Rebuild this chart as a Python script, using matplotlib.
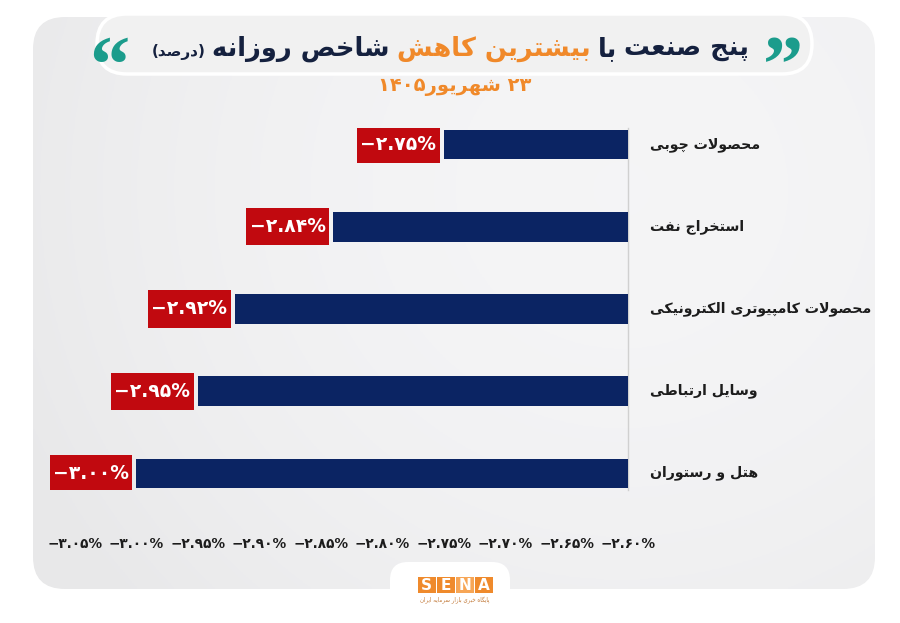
import matplotlib
matplotlib.use('Agg')
import matplotlib.pyplot as plt
from matplotlib.patches import FancyBboxPatch, Rectangle
import numpy as np

# Data
categories = ['محصولات چوبی', 'استخراج نفت', 'محصولات کامپیوتری الکترونیکی',
              'وسایل ارتباطی', 'هتل و رستوران']
values = [-2.75, -2.84, -2.92, -2.95, -3.00]
tick_values = [-3.05, -3.00, -2.95, -2.90, -2.85, -2.80, -2.75, -2.70, -2.65, -2.60]
title_parts = [('پنج صنعت', 'navy'), ('با', 'navy'), ('بیشترین کاهش', 'orange'),
               ('شاخص روزانه', 'navy')]
title_note = '(درصد)'
date_day = '۲۳'
date_month = 'شهریور'
date_year = '۱۴۰۵'

NAVY = '#0b2463'
RED = '#c1090f'
ORANGE = '#f0892a'
TITLE_NAVY = '#15213f'
TEAL = '#1b9c8c'

# Arabic/Persian shaping (isolated, final, initial, medial)
FORMS = {
    'ا': ('\uFE8D', '\uFE8E', None, None), 'آ': ('\uFE81', '\uFE82', None, None),
    'ب': ('\uFE8F', '\uFE90', '\uFE91', '\uFE92'), 'پ': ('\uFB56', '\uFB57', '\uFB58', '\uFB59'),
    'ت': ('\uFE95', '\uFE96', '\uFE97', '\uFE98'), 'ث': ('\uFE99', '\uFE9A', '\uFE9B', '\uFE9C'),
    'ج': ('\uFE9D', '\uFE9E', '\uFE9F', '\uFEA0'), 'چ': ('\uFB7A', '\uFB7B', '\uFB7C', '\uFB7D'),
    'ح': ('\uFEA1', '\uFEA2', '\uFEA3', '\uFEA4'), 'خ': ('\uFEA5', '\uFEA6', '\uFEA7', '\uFEA8'),
    'د': ('\uFEA9', '\uFEAA', None, None), 'ذ': ('\uFEAB', '\uFEAC', None, None),
    'ر': ('\uFEAD', '\uFEAE', None, None), 'ز': ('\uFEAF', '\uFEB0', None, None),
    'ژ': ('\uFB8A', '\uFB8B', None, None),
    'س': ('\uFEB1', '\uFEB2', '\uFEB3', '\uFEB4'), 'ش': ('\uFEB5', '\uFEB6', '\uFEB7', '\uFEB8'),
    'ص': ('\uFEB9', '\uFEBA', '\uFEBB', '\uFEBC'), 'ض': ('\uFEBD', '\uFEBE', '\uFEBF', '\uFEC0'),
    'ط': ('\uFEC1', '\uFEC2', '\uFEC3', '\uFEC4'), 'ظ': ('\uFEC5', '\uFEC6', '\uFEC7', '\uFEC8'),
    'ع': ('\uFEC9', '\uFECA', '\uFECB', '\uFECC'), 'غ': ('\uFECD', '\uFECE', '\uFECF', '\uFED0'),
    'ف': ('\uFED1', '\uFED2', '\uFED3', '\uFED4'), 'ق': ('\uFED5', '\uFED6', '\uFED7', '\uFED8'),
    'ک': ('\uFB8E', '\uFB8F', '\uFB90', '\uFB91'), 'گ': ('\uFB92', '\uFB93', '\uFB94', '\uFB95'),
    'ل': ('\uFEDD', '\uFEDE', '\uFEDF', '\uFEE0'), 'م': ('\uFEE1', '\uFEE2', '\uFEE3', '\uFEE4'),
    'ن': ('\uFEE5', '\uFEE6', '\uFEE7', '\uFEE8'), 'ه': ('\uFEE9', '\uFEEA', '\uFEEB', '\uFEEC'),
    'و': ('\uFEED', '\uFEEE', None, None), 'ی': ('\uFBFC', '\uFBFD', '\uFBFE', '\uFBFF'),
}


def fa(text):
    res = []
    i = 0
    n = len(text)
    while i < n:
        c = text[i]
        prev = text[i - 1] if i > 0 else None
        joins_prev = prev in FORMS and FORMS[prev][2] is not None and c in FORMS
        if c == 'ل' and i + 1 < n and text[i + 1] == 'ا':
            res.append('\uFEFC' if joins_prev else '\uFEFB')
            i += 2
            continue
        if c not in FORMS:
            res.append(c)
            i += 1
            continue
        nxt = text[i + 1] if i + 1 < n else None
        joins_next = FORMS[c][2] is not None and nxt in FORMS
        iso, fin, ini, med = FORMS[c]
        if joins_prev and joins_next:
            res.append(med)
        elif joins_prev:
            res.append(fin)
        elif joins_next:
            res.append(ini)
        else:
            res.append(iso)
        i += 1
    return ''.join(res)[::-1].translate(str.maketrans('()', ')('))


def fa_pct(v):
    s = f'{abs(v):.2f}'.translate(str.maketrans('0123456789', '۰۱۲۳۴۵۶۷۸۹'))
    return '−' + s + '%'


plt.rcParams['font.family'] = ['DejaVu Sans']
W, H = 900, 623
fig = plt.figure(figsize=(W / 100, H / 100), dpi=100)
fig.patch.set_facecolor('white')

# background layer in pixel coordinates
bg = fig.add_axes([0, 0, 1, 1], zorder=0)
bg.set_xlim(0, W)
bg.set_ylim(H, 0)
bg.axis('off')

card = FancyBboxPatch((33, 17), 842, 572, boxstyle='round,pad=0,rounding_size=32',
                      fc='none', ec='none')
bg.add_patch(card)
gx = np.linspace(0, 1, 300)
gy = np.linspace(0, 1, 200)
X, Y = np.meshgrid(gx, gy)
shade = 0.91 + 0.05 * np.clip(1 - ((X - 0.7) ** 2 * 1.6 + (Y - 0.3) ** 2 * 0.8), 0, 1)
img = bg.imshow(np.dstack([shade, shade, shade * 1.005]).clip(0, 1), extent=(33, 875, 589, 17),
                aspect='auto', zorder=1)
img.set_clip_path(card)

pill = FancyBboxPatch((97, 14), 715, 60, boxstyle='round,pad=0,rounding_size=30',
                      fc='#f1f1f1', ec='white', lw=2.5, zorder=2)
bg.add_patch(pill)

tab = FancyBboxPatch((390, 562), 120, 90, boxstyle='round,pad=0,rounding_size=18',
                     fc='white', ec='none', zorder=2)
bg.add_patch(tab)

# logo
logo_letters = ['S', 'E', 'N', 'A']
for k, ch in enumerate(logo_letters):
    x0 = 418 + k * 19
    fc = '#f7a656' if ch == 'N' else '#ef8a2c'
    bg.add_patch(Rectangle((x0, 577), 17.5, 16, fc=fc, ec='none', zorder=3))
    bg.text(x0 + 8.75, 585.5, ch, color='white', fontsize=11, fontweight='bold',
            ha='center', va='center', zorder=4)
bg.text(455, 600, fa('پایگاه خبری بازار سرمایه ایران'), color='#c27a3a', fontsize=4,
        ha='center', va='center', zorder=4)

# main chart
ax = fig.add_axes([40 / W, (H - 490) / H, 588 / W, 362 / H], zorder=2)
ax.patch.set_alpha(0)
y = np.arange(len(categories))
xmax = -2.60
ax.barh(y, [xmax - v for v in values], left=values, height=0.354, color=NAVY, zorder=3)
ax.set_xlim(-3.0785, xmax)
ax.set_ylim(len(categories) - 1 + 0.207, -0.207)

px = 1 / 1230.0
for i, v in enumerate(values):
    bw = 83 * px
    x1 = v - 4 * px
    ax.add_patch(Rectangle((x1 - bw, i - 0.2256), bw, 0.4512, fc=RED, ec='none', zorder=4))
    ax.text(x1 - bw / 2, i, fa_pct(v), color='white', fontsize=13.5, fontweight='bold',
            ha='center', va='center', zorder=5)
    ax.text(1 + 22 / 588, i, fa(categories[i]), transform=ax.get_yaxis_transform(),
            color='#1c1c1c', fontsize=10.2, fontweight='bold', ha='left', va='center')

for s in ['top', 'left', 'bottom']:
    ax.spines[s].set_visible(False)
ax.spines['right'].set_color('#d0d0d0')
ax.spines['right'].set_linewidth(1)
ax.set_yticks([])
ax.set_xticks(tick_values)
ax.set_xticklabels([fa_pct(t) for t in tick_values], fontsize=9.8, fontweight='bold',
                   color='#1c1c1c')
ax.tick_params(axis='x', length=0, pad=34)

# title row
r = fig.canvas.get_renderer()
colors = {'navy': TITLE_NAVY, 'orange': ORANGE}
parts = [(title_note, TITLE_NAVY, 11)] + [(t, colors[c], 18.5) for t, c in reversed(title_parts)]
objs = []
for s, col, fs in parts:
    objs.append(fig.text(0, 1 - 56 / H, fa(s), color=col, fontsize=fs, fontweight='bold',
                         ha='left', va='baseline'))
widths = [o.get_window_extent(r).width for o in objs]
gap = 7
total = sum(widths) + gap * (len(objs) - 1)
x = 450 - total / 2
for o, w in zip(objs, widths):
    o.set_x(x / W)
    x += w + gap
left_x = 450 - total / 2
fig.text((left_x - 22) / W, 1 - 91 / H, '\u201C', color=TEAL, fontsize=58,
         family='Liberation Serif', fontweight='bold', ha='right', va='baseline')
fig.text((x - gap + 14) / W, 1 - 91 / H, '\u201D', color=TEAL, fontsize=58,
         family='Liberation Serif', fontweight='bold', ha='left', va='baseline')

# date
fig.text(455 / W, 1 - 86 / H, date_year + fa(date_month) + ' ' + date_day, color=ORANGE,
         fontsize=14, fontweight='bold', ha='center', va='center')

fig.savefig('out.png', dpi=100, facecolor='white')
